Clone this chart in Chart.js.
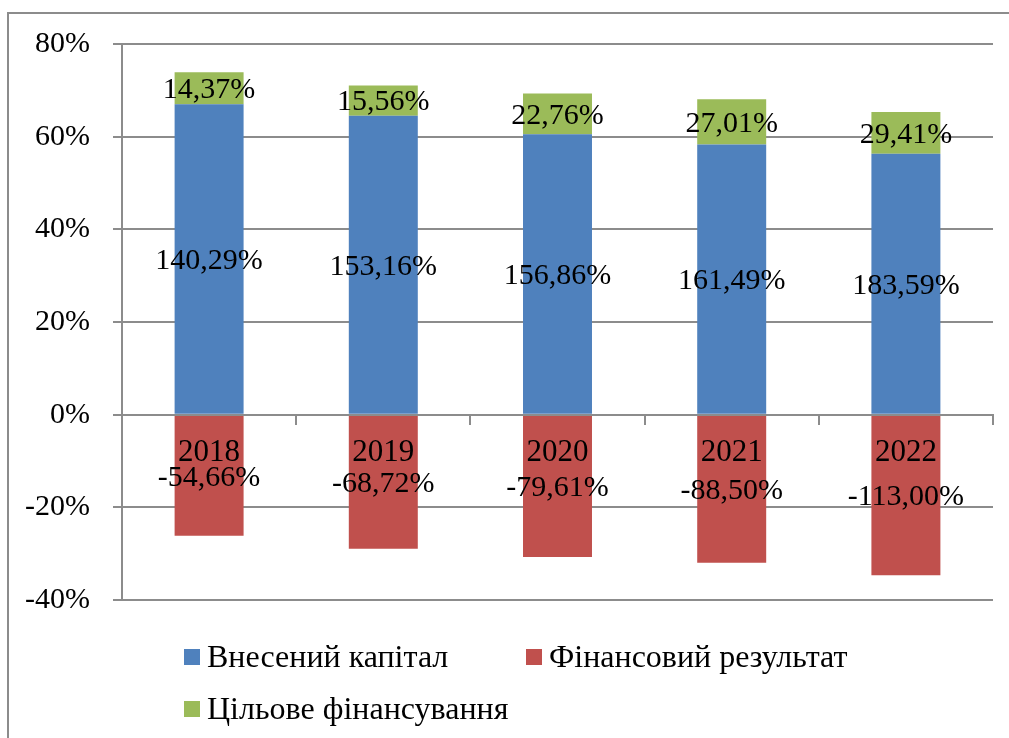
<!DOCTYPE html>
<html>
<head>
<meta charset="utf-8">
<script src="https://cdn.jsdelivr.net/npm/chart.js@4"></script>
<style>
  html, body { margin: 0; padding: 0; background: #fff; }
  #wrap { width: 1009px; height: 738px; position: relative; }
</style>
</head>
<body>
<div id="wrap"><canvas id="structureChart"></canvas></div>
<script>
const years = ["2018", "2019", "2020", "2021", "2022"];
const capital = [140.29, 153.16, 156.86, 161.49, 183.59];
const finResult = [-54.66, -68.72, -79.61, -88.5, -113.0];
const funding = [14.37, 15.56, 22.76, 27.01, 29.41];
const seriesNames = ["Внесений капітал", "Фінансовий результат", "Цільове фінансування"];
const yTicks = [-40, -20, 0, 20, 40, 60, 80];

const FONT = "'Liberation Serif', 'Times New Roman', 'DejaVu Serif', serif";
const GRID = "#8c8c8c";

// 100% stacked: each bar is the share of the sum of absolute values
const totals = years.map((_, i) =>
  Math.abs(capital[i]) + Math.abs(finResult[i]) + Math.abs(funding[i]));
const share = (arr) => arr.map((v, i) => (v / totals[i]) * 100);

const fmt = (v) => v.toFixed(2).replace(".", ",") + "%";

const rawValues = [capital, finResult, funding];

const frame = {
  id: "frame",
  beforeDraw(chart) {
    const c = chart.ctx;
    c.save();
    c.strokeStyle = GRID;
    c.lineWidth = 2;
    c.strokeRect(8, 13, chart.width + 20, chart.height + 20);
    c.restore();
  },
};

const valueLabels = {
  id: "valueLabels",
  afterDatasetsDraw(chart) {
    const c = chart.ctx;
    c.save();
    c.font = "30px " + FONT;
    c.fillStyle = "#000";
    c.textAlign = "center";
    c.textBaseline = "middle";
    chart.data.datasets.forEach((ds, di) => {
      chart.getDatasetMeta(di).data.forEach((bar, i) => {
        const y = (bar.y + bar.base) / 2;
        c.fillText(fmt(rawValues[di][i]), bar.x, y + 2);
      });
    });
    c.restore();
  },
};

const bottomLegend = {
  id: "bottomLegend",
  afterDraw(chart) {
    const c = chart.ctx;
    const spots = [[184, 649], [526, 649], [184, 701]];
    c.save();
    c.font = "32px " + FONT;
    c.textBaseline = "alphabetic";
    c.textAlign = "left";
    chart.data.datasets.forEach((ds, di) => {
      const [x, y] = spots[di];
      c.fillStyle = ds.backgroundColor;
      c.fillRect(x, y, 16, 16);
      c.fillStyle = "#000";
      c.fillText(ds.label, x + 23, y + 18);
    });
    c.restore();
  },
};

function draw() {
  new Chart(document.getElementById("structureChart"), {
    type: "bar",
    data: {
      labels: years,
      datasets: [
        { label: seriesNames[0], data: share(capital), backgroundColor: "#4F81BD" },
        { label: seriesNames[1], data: share(finResult), backgroundColor: "#C0504D" },
        { label: seriesNames[2], data: share(funding), backgroundColor: "#9BBB59" },
      ],
    },
    options: {
      responsive: true,
      maintainAspectRatio: false,
      animation: false,
      datasets: { bar: { categoryPercentage: 1, barPercentage: 0.396 } },
      layout: { padding: { left: 8, right: 16, top: 44, bottom: 138 } },
      plugins: {
        legend: { display: false },
        tooltip: { enabled: false },
      },
      scales: {
        x: {
          stacked: true,
          position: { y: 0 },
          grid: {
            drawOnChartArea: false,
            drawTicks: true,
            tickLength: 9,
            color: GRID,
            lineWidth: 2,
            z: 1,
          },
          border: { color: GRID, width: 2, z: 1 },
          ticks: { color: "#000", font: { family: FONT, size: 31 }, padding: 11, z: 2 },
        },
        y: {
          stacked: true,
          min: -40,
          max: 80,
          afterFit: (s) => { s.width = 114; },
          afterBuildTicks: (s) => { s.ticks = yTicks.map((v) => ({ value: v })); },
          grid: { color: GRID, lineWidth: 2, tickLength: 9 },
          border: { color: GRID, width: 2 },
          ticks: {
            color: "#000",
            font: { family: FONT, size: 30 },
            padding: 23,
            callback: (v) => v + "%",
          },
        },
      },
    },
    plugins: [frame, valueLabels, bottomLegend],
  });
}

if (document.fonts && document.fonts.load) {
  document.fonts.load("30px 'Liberation Serif'").then(draw, draw);
} else {
  draw();
}
</script>
</body>
</html>
